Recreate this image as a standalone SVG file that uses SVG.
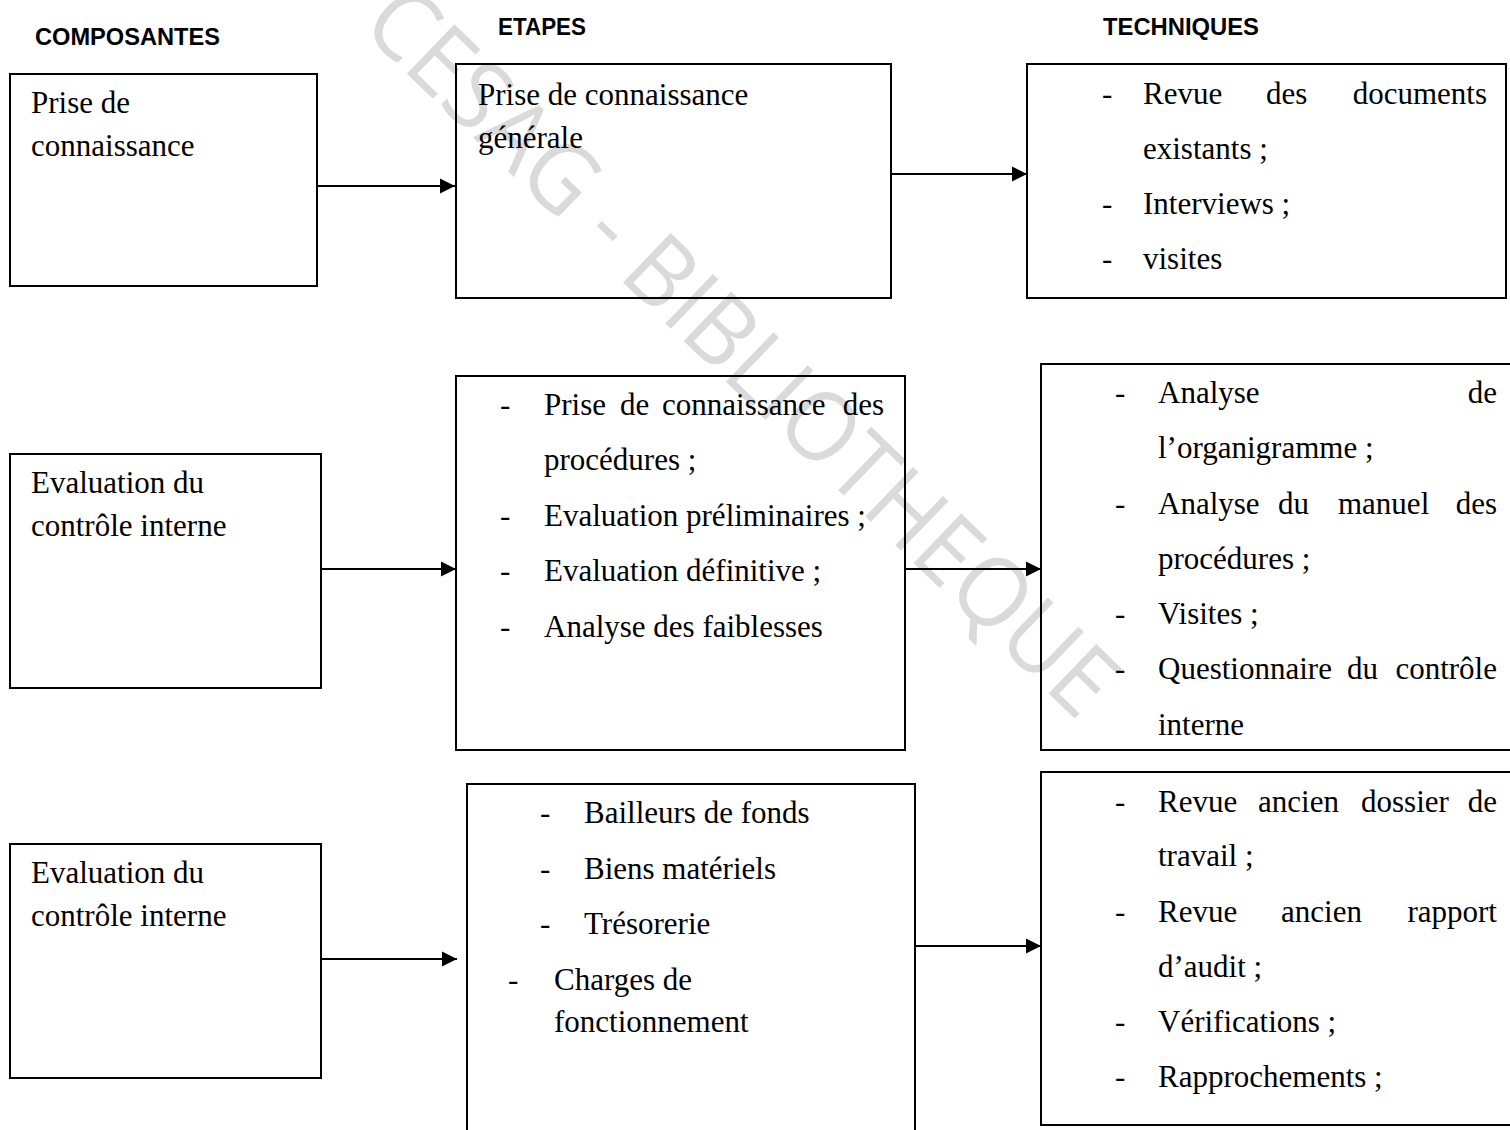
<svg xmlns="http://www.w3.org/2000/svg" width="1510" height="1130" viewBox="0 0 1510 1130">
<style>
.box{fill:none;stroke:#000;stroke-width:2}
.t{font-family:"Liberation Serif","Times New Roman",serif;font-size:31px;fill:#000}
.h{font-family:"Liberation Sans",Arial,sans-serif;font-size:23px;font-weight:bold;fill:#000}
.e{text-anchor:end}
.wm{font-family:"Open Sans","Liberation Sans",sans-serif;font-size:96px;font-weight:400;fill:#dadada}
.c{stroke:#000;stroke-width:2;fill:none;marker-end:url(#ah)}
</style>
<defs>
<marker id="ah" markerUnits="userSpaceOnUse" markerWidth="16" markerHeight="16" refX="15" refY="8" orient="auto">
<path d="M0,0.5 L15,8 L0,15.5 Z" fill="#000"/>
</marker>
</defs>
<rect width="1510" height="1130" fill="#fff"/>
<text class="wm" x="745" y="348" transform="rotate(44 745 348)" text-anchor="middle" dominant-baseline="central" textLength="1000" lengthAdjust="spacingAndGlyphs">CESAG - BIBLIOTHEQUE</text>

<g id="headers">
<text class="h" x="35" y="45" textLength="185" lengthAdjust="spacingAndGlyphs">COMPOSANTES</text>
<text class="h" x="498" y="35" textLength="88" lengthAdjust="spacingAndGlyphs">ETAPES</text>
<text class="h" x="1103" y="35" textLength="156" lengthAdjust="spacingAndGlyphs">TECHNIQUES</text>
</g>

<g id="connectors">
<line class="c" x1="317" y1="186" x2="455" y2="186"/>
<line class="c" x1="891" y1="174" x2="1027" y2="174"/>
<line class="c" x1="321" y1="569" x2="456" y2="569"/>
<line class="c" x1="905" y1="569" x2="1041" y2="569"/>
<line class="c" x1="321" y1="959" x2="457" y2="959"/>
<line class="c" x1="915" y1="946" x2="1041" y2="946"/>
</g>

<g id="comp1">
<rect class="box" x="10" y="74" width="307" height="212"/>
<text class="t" x="31" y="113">Prise de</text>
<text class="t" x="31" y="156">connaissance</text>
</g>
<g id="etape1">
<rect class="box" x="456" y="64" width="435" height="234"/>
<text class="t" x="478" y="105">Prise de connaissance</text>
<text class="t" x="478" y="148">générale</text>
</g>
<g id="tech1">
<rect class="box" x="1027" y="64" width="479" height="234"/>
<text class="t" x="1102" y="104">-</text>
<text class="t" x="1143" y="104">Revue</text>
<text class="t" x="1266" y="104">des</text>
<text class="t e" x="1487" y="104">documents</text>
<text class="t" x="1143" y="159">existants ;</text>
<text class="t" x="1102" y="214">-</text>
<text class="t" x="1143" y="214">Interviews ;</text>
<text class="t" x="1102" y="269">-</text>
<text class="t" x="1143" y="269">visites</text>
</g>

<g id="comp2">
<rect class="box" x="10" y="454" width="311" height="234"/>
<text class="t" x="31" y="493">Evaluation du</text>
<text class="t" x="31" y="536">contrôle interne</text>
</g>
<g id="etape2">
<rect class="box" x="456" y="376" width="449" height="374"/>
<text class="t" x="500" y="415">-</text>
<text class="t" x="544" y="415">Prise</text>
<text class="t" x="620" y="415">de</text>
<text class="t" x="662" y="415">connaissance</text>
<text class="t e" x="884" y="415">des</text>
<text class="t" x="544" y="470">procédures ;</text>
<text class="t" x="500" y="526">-</text>
<text class="t" x="544" y="526">Evaluation préliminaires ;</text>
<text class="t" x="500" y="581">-</text>
<text class="t" x="544" y="581">Evaluation définitive ;</text>
<text class="t" x="500" y="637">-</text>
<text class="t" x="544" y="637">Analyse des faiblesses</text>
</g>
<g id="tech2">
<rect class="box" x="1041" y="364" width="480" height="386"/>
<text class="t" x="1115" y="403">-</text>
<text class="t" x="1158" y="403">Analyse</text>
<text class="t e" x="1497" y="403">de</text>
<text class="t" x="1158" y="458">l’organigramme ;</text>
<text class="t" x="1115" y="514">-</text>
<text class="t" x="1158" y="514">Analyse</text>
<text class="t" x="1278" y="514">du</text>
<text class="t" x="1338" y="514">manuel</text>
<text class="t e" x="1497" y="514">des</text>
<text class="t" x="1158" y="569">procédures ;</text>
<text class="t" x="1115" y="624">-</text>
<text class="t" x="1158" y="624">Visites ;</text>
<text class="t" x="1115" y="679">-</text>
<text class="t" x="1158" y="679">Questionnaire</text>
<text class="t" x="1347" y="679">du</text>
<text class="t e" x="1497" y="679">contrôle</text>
<text class="t" x="1158" y="735">interne</text>
</g>

<g id="comp3">
<rect class="box" x="10" y="844" width="311" height="234"/>
<text class="t" x="31" y="883">Evaluation du</text>
<text class="t" x="31" y="926">contrôle interne</text>
</g>
<g id="etape3">
<rect class="box" x="467" y="784" width="448" height="360"/>
<text class="t" x="540" y="823">-</text>
<text class="t" x="584" y="823">Bailleurs de fonds</text>
<text class="t" x="540" y="879">-</text>
<text class="t" x="584" y="879">Biens matériels</text>
<text class="t" x="540" y="934">-</text>
<text class="t" x="584" y="934">Trésorerie</text>
<text class="t" x="508" y="990">-</text>
<text class="t" x="554" y="990">Charges de</text>
<text class="t" x="554" y="1032">fonctionnement</text>
</g>
<g id="tech3">
<rect class="box" x="1041" y="772" width="480" height="353"/>
<text class="t" x="1115" y="812">-</text>
<text class="t" x="1158" y="812">Revue</text>
<text class="t" x="1258" y="812">ancien</text>
<text class="t" x="1361" y="812">dossier</text>
<text class="t e" x="1497" y="812">de</text>
<text class="t" x="1158" y="866">travail ;</text>
<text class="t" x="1115" y="922">-</text>
<text class="t" x="1158" y="922">Revue</text>
<text class="t" x="1281" y="922">ancien</text>
<text class="t e" x="1497" y="922">rapport</text>
<text class="t" x="1158" y="977">d’audit ;</text>
<text class="t" x="1115" y="1032">-</text>
<text class="t" x="1158" y="1032">Vérifications ;</text>
<text class="t" x="1115" y="1087">-</text>
<text class="t" x="1158" y="1087">Rapprochements ;</text>
</g>
</svg>
